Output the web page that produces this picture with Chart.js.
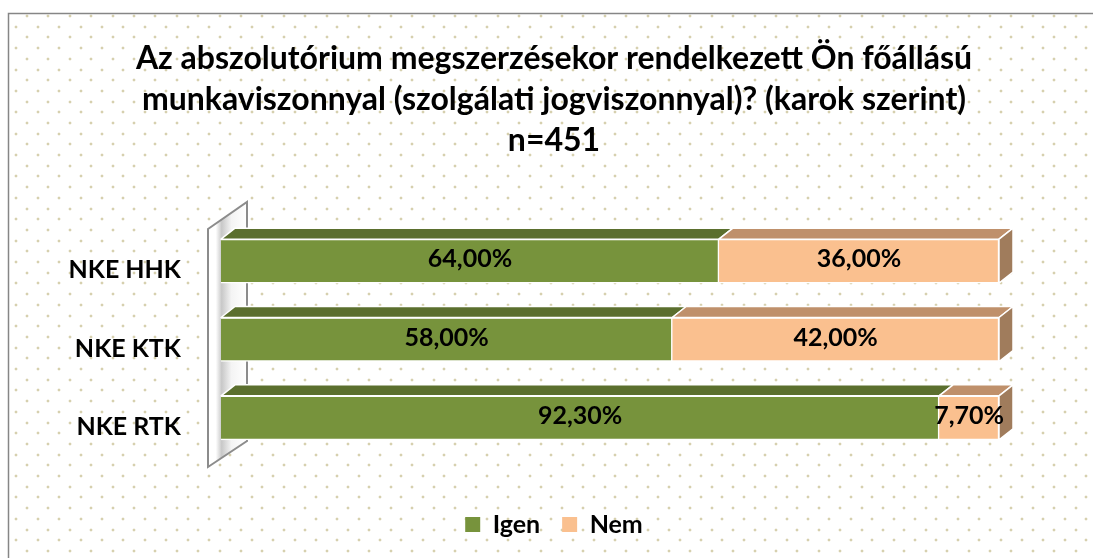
<!DOCTYPE html>
<html>
<head>
<meta charset="utf-8">
<script src="https://cdn.jsdelivr.net/npm/chart.js@4"></script>
<style>
  html, body { margin: 0; padding: 0; background: #fff; }
  #wrap { width: 1093px; height: 558px; }
</style>
</head>
<body>
<div id="wrap"><canvas id="barChart" width="1093" height="558"></canvas></div>
<script>
// adatok
const categories = ['NKE HHK', 'NKE KTK', 'NKE RTK'];
const igenValues = [64.0, 58.0, 92.3];
const nemValues = [36.0, 42.0, 7.7];
const seriesNames = ['Igen', 'Nem'];
const titleLines = [
    'Az abszolutórium megszerzésekor rendelkezett Ön főállású',
    'munkaviszonnyal (szolgálati jogviszonnyal)? (karok szerint)',
    'n=451'
];

const FONT = 'Lato';
const DEPTH_X = 14;
const DEPTH_Y = 11;

// szinek: elolap, teteje, oldala
const faceColors = [
    { front: '#77933c', top: '#5b6f2e', side: '#4f6128' },
    { front: '#fac08f', top: '#bf906b', side: '#a07c5c' }
];

function formatPct(v) {
    return v.toFixed(2).replace('.', ',') + '%';
}

// pontozott hatter + keret
const backgroundPlugin = {
    id: 'backgroundPlugin',
    beforeDraw(chart) {
        const ctx = chart.ctx;
        ctx.save();
        ctx.fillStyle = '#ffffff';
        ctx.fillRect(0, 0, chart.width, chart.height);
        ctx.fillStyle = '#d6d0ae';
        let row = 0;
        for (let y = 16; y < chart.height; y += 10.7) {
            const start = row % 2 === 0 ? 27 : 16.3;
            for (let x = start; x < chart.width; x += 21.4) {
                const cx = Math.round(x), cy = Math.round(y);
                ctx.fillRect(cx - 1, cy - 1, 2, 2);
                ctx.fillRect(cx - 1.5, cy - 0.5, 3, 1);
                ctx.fillRect(cx - 0.5, cy - 1.5, 1, 3);
            }
            row++;
        }
        ctx.strokeStyle = '#868686';
        ctx.lineWidth = 1.5;
        ctx.strokeRect(8.5, 13.5, chart.width + 20, chart.height + 20);
        ctx.restore();
    }
};

// bal oldali fal
const wallPlugin = {
    id: 'wallPlugin',
    beforeDatasetsDraw(chart) {
        const ctx = chart.ctx;
        const a = chart.chartArea;
        const x0 = a.left - 13, x1 = a.left + 26;
        ctx.save();
        ctx.beginPath();
        ctx.moveTo(x0, a.top + 7);
        ctx.lineTo(x1, a.top - 20);
        ctx.lineTo(x1, a.bottom - 16);
        ctx.lineTo(x0, a.bottom + 10);
        ctx.closePath();
        const g = ctx.createLinearGradient(x0, 0, x1, 0);
        g.addColorStop(0, '#ffffff');
        g.addColorStop(0.2, '#ffffff');
        g.addColorStop(0.35, '#c8c8c8');
        g.addColorStop(0.6, '#f4f4f4');
        g.addColorStop(1, '#ffffff');
        ctx.fillStyle = g;
        ctx.fill();
        ctx.strokeStyle = '#8c8c8c';
        ctx.lineWidth = 2;
        ctx.stroke();
        ctx.restore();
    }
};

// 3D teteje, oldala es a cimkek
const barFacesPlugin = {
    id: 'barFacesPlugin',
    afterDatasetsDraw(chart) {
        const ctx = chart.ctx;
        ctx.save();
        ctx.strokeStyle = '#ffffff';
        ctx.lineWidth = 1.5;
        ctx.lineJoin = 'round';
        const lastIndex = chart.data.datasets.length - 1;
        chart.data.datasets.forEach((ds, di) => {
            const meta = chart.getDatasetMeta(di);
            meta.data.forEach((bar) => {
                const p = bar.getProps(['x', 'y', 'base', 'height'], true);
                const left = Math.min(p.base, p.x);
                const right = Math.max(p.base, p.x);
                const top = p.y - p.height / 2;
                const bottom = p.y + p.height / 2;
                ctx.beginPath();
                ctx.moveTo(left, top);
                ctx.lineTo(left + DEPTH_X, top - DEPTH_Y);
                ctx.lineTo(right + DEPTH_X, top - DEPTH_Y);
                ctx.lineTo(right, top);
                ctx.closePath();
                ctx.fillStyle = faceColors[di].top;
                ctx.fill();
                ctx.stroke();
                if (di === lastIndex) {
                    ctx.beginPath();
                    ctx.moveTo(right, top);
                    ctx.lineTo(right + DEPTH_X, top - DEPTH_Y);
                    ctx.lineTo(right + DEPTH_X, bottom - DEPTH_Y);
                    ctx.lineTo(right, bottom);
                    ctx.closePath();
                    ctx.fillStyle = faceColors[di].side;
                    ctx.fill();
                    ctx.stroke();
                }
            });
        });

        ctx.fillStyle = '#000000';
        ctx.font = 'bold 25px ' + FONT;
        ctx.textAlign = 'center';
        ctx.textBaseline = 'middle';
        chart.data.datasets.forEach((ds, di) => {
            const meta = chart.getDatasetMeta(di);
            meta.data.forEach((bar, i) => {
                const p = bar.getProps(['x', 'y', 'base'], true);
                ctx.fillText(formatPct(ds.data[i]), (p.base + p.x) / 2, p.y - 2);
            });
        });
        ctx.restore();
    }
};

Chart.defaults.font.family = FONT;
Chart.defaults.color = '#000000';

const ctx = document.getElementById('barChart').getContext('2d');
const barChartInstance = new Chart(ctx, {
    type: 'bar',
    data: {
        labels: categories,
        datasets: [
            {
                label: seriesNames[0],
                data: igenValues,
                backgroundColor: faceColors[0].front,
                borderColor: '#ffffff',
                borderWidth: 1.5,
                barThickness: 44
            },
            {
                label: seriesNames[1],
                data: nemValues,
                backgroundColor: faceColors[1].front,
                borderColor: '#ffffff',
                borderWidth: 1.5,
                barThickness: 44
            }
        ]
    },
    options: {
        indexAxis: 'y',
        responsive: false,
        animation: false,
        layout: { padding: { left: 15, right: 0, top: 0, bottom: 11 } },
        scales: {
            x: {
                stacked: true,
                min: 0,
                max: 100,
                grid: { display: false },
                border: { display: false },
                ticks: { display: false },
                afterFit: (s) => { s.height = 33; }
            },
            y: {
                stacked: true,
                grid: { display: false, drawTicks: false },
                border: { display: false },
                ticks: {
                    padding: 40,
                    labelOffset: 9,
                    font: { size: 25, weight: 'bold' }
                },
                afterFit: (s) => { s.width = 206; }
            },
            yRight: {
                type: 'linear',
                position: 'right',
                grid: { display: false },
                border: { display: false },
                ticks: { display: false },
                afterFit: (s) => { s.width = 94; }
            }
        },
        plugins: {
            title: {
                display: true,
                text: titleLines,
                font: { size: 32, weight: 'bold', lineHeight: 41 / 32 },
                color: '#000000',
                padding: { top: 38, bottom: 61 }
            },
            legend: {
                position: 'bottom',
                labels: {
                    boxWidth: 15,
                    boxHeight: 15,
                    padding: 22,
                    font: { size: 25, weight: 'bold' },
                    generateLabels: (chart) => {
                        const items = Chart.defaults.plugins.legend.labels.generateLabels(chart);
                        items.forEach((it) => { it.lineWidth = 0; });
                        return items;
                    }
                }
            },
            tooltip: { enabled: false }
        }
    },
    plugins: [backgroundPlugin, wallPlugin, barFacesPlugin]
});
</script>
</body>
</html>
